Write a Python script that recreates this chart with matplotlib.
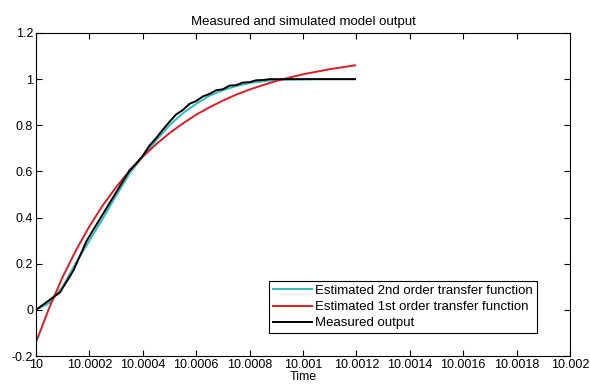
import matplotlib.pyplot as plt
import numpy as np

plt.rcParams['font.family'] = ['Liberation Sans', 'DejaVu Sans']

# time offsets, in units of 1e-4 s after t = 10
t_meas = [0, 0.9, 1.4, 1.9, 2.4, 2.9, 3.2, 3.5, 3.75, 4.0, 4.25, 4.5, 4.75,
          5.0, 5.25, 5.5, 5.75, 6.0, 6.25, 6.5, 6.75, 7.0, 7.25, 7.5, 7.75,
          8.0, 8.25, 8.5, 8.75, 9.0, 10.0, 11.0, 11.95]
y_meas = [0.0, 0.076, 0.17, 0.30, 0.395, 0.49, 0.547, 0.604, 0.634, 0.668,
          0.712, 0.744, 0.781, 0.815, 0.847, 0.866, 0.893, 0.905, 0.925,
          0.936, 0.952, 0.956, 0.972, 0.974, 0.985, 0.987, 0.995, 0.996,
          1.0, 1.0, 1.0, 1.0, 1.0]

t_fit = [0, 0.5, 1.0, 1.5, 2.0, 2.5, 3.0, 3.5, 4.0, 4.5, 5.0, 5.5, 6.0,
         6.5, 7.0, 7.5, 8.0, 8.5, 9.0, 9.5, 10.0, 10.5, 11.0, 11.5, 11.95]
y_2nd = [0.0, 0.03, 0.10, 0.205, 0.30, 0.395, 0.495, 0.59, 0.665, 0.735,
         0.80, 0.852, 0.893, 0.928, 0.952, 0.97, 0.983, 0.991, 0.996,
         0.998, 0.999, 1.0, 1.0, 1.0, 1.0]
y_1st = [-0.14, 0.01, 0.143, 0.259, 0.362, 0.453, 0.532, 0.602, 0.664,
         0.718, 0.766, 0.808, 0.846, 0.878, 0.907, 0.933, 0.955, 0.974,
         0.992, 1.007, 1.021, 1.032, 1.043, 1.052, 1.06]

xticks = [10, 10.0002, 10.0004, 10.0006, 10.0008, 10.001, 10.0012, 10.0014,
          10.0016, 10.0018, 10.002]
xlabels = ['10', '10.0002', '10.0004', '10.0006', '10.0008', '10.001',
           '10.0012', '10.0014', '10.0016', '10.0018', '10.002']

fig = plt.figure(figsize=(5.9, 3.85), dpi=100)
ax = fig.add_axes([0.061, 0.0753, 0.905, 0.839])

ax.plot(10 + np.array(t_fit) * 1e-4, y_2nd, color='#30bcbc', lw=1.4,
        label='Estimated 2nd order transfer function')
ax.plot(10 + np.array(t_fit) * 1e-4, y_1st, color='#d81e26', lw=1.4,
        label='Estimated 1st order transfer function')
ax.plot(10 + np.array(t_meas) * 1e-4, y_meas, color='black', lw=1.4,
        label='Measured output')

ax.set_xlim(10, 10.002)
ax.set_ylim(-0.2, 1.2)
ax.set_xticks(xticks)
ax.set_xticklabels(xlabels)
ax.set_yticks([-0.2, 0, 0.2, 0.4, 0.6, 0.8, 1, 1.2])
ax.set_yticklabels(['-0.2', '0', '0.2', '0.4', '0.6', '0.8', '1', '1.2'])
ax.tick_params(direction='in', top=True, right=True, length=4, width=0.8,
               labelsize=9, pad=2)
for s in ax.spines.values():
    s.set_linewidth(0.8)

ax.set_title('Measured and simulated model output', fontsize=9.5, pad=6)
ax.set_xlabel('Time', fontsize=9, labelpad=0)

leg = ax.legend(loc='lower right', bbox_to_anchor=(0.9376, 0.070),
                borderaxespad=0, fontsize=9.5, fancybox=False,
                edgecolor='black', framealpha=1, handlelength=3.0,
                handletextpad=0.2, labelspacing=0.3, borderpad=0.3)
leg.get_frame().set_linewidth(0.8)

fig.savefig('out.png', dpi=100)
